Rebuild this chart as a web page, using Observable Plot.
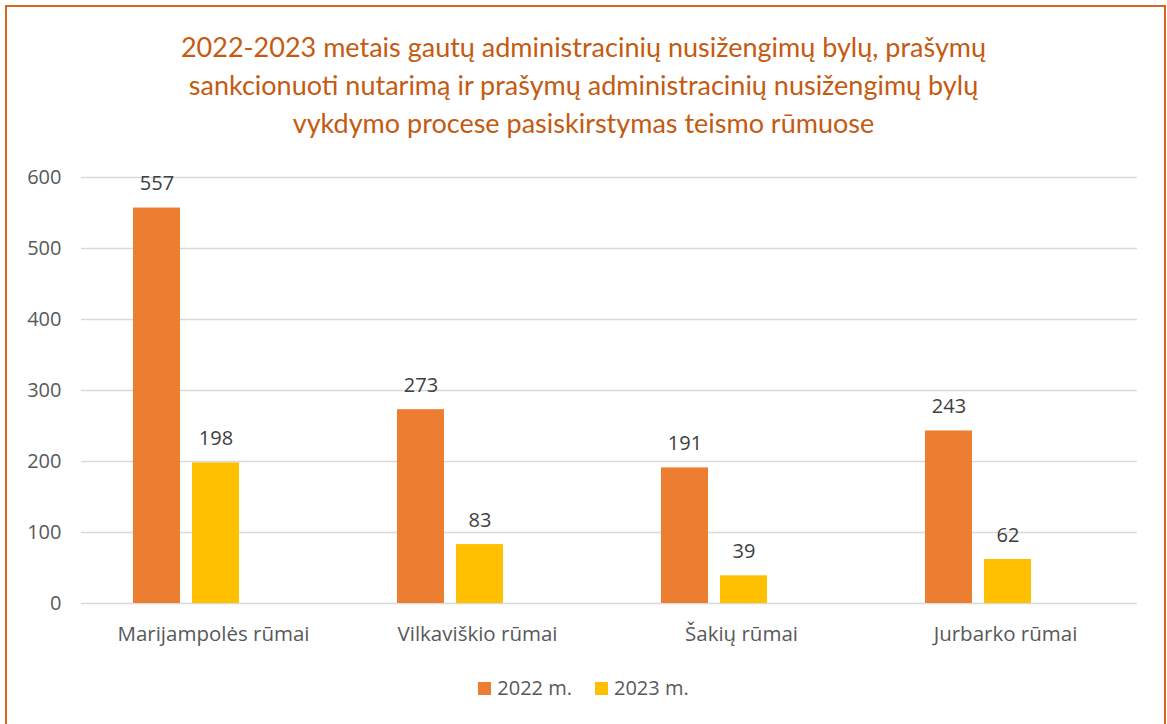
<!DOCTYPE html>
<html><head><meta charset="utf-8">
<script src="https://cdn.jsdelivr.net/npm/d3@7"></script>
<script src="https://cdn.jsdelivr.net/npm/@observablehq/plot@0.6"></script>
<style>
body{margin:0;width:1167px;height:724px;overflow:hidden;background:#fff;font-family:"Open Sans",sans-serif;position:relative}
#frame{position:absolute;left:5px;top:5px;width:1161px;height:800px;border:2px solid #D4661F;box-sizing:border-box}
#title{position:absolute;left:0;width:1167px;top:28px;text-align:center;color:#C55A11;font-family:Lato,sans-serif;font-size:27px;line-height:38px}
#chart{position:absolute;left:0;top:160px}
#legend{position:absolute;top:677px;left:0;width:1167px;display:flex;justify-content:center;gap:23px;font-size:20px;color:#595959;line-height:22px}
#legend span.item{display:flex;align-items:center;gap:6px}
#legend span.sw{display:inline-block;width:13px;height:13px}
</style></head>
<body>
<div id="frame"></div>
<div id="title">2022-2023 metais gautų administracinių nusižengimų bylų, prašymų<br>sankcionuoti nutarimą ir prašymų administracinių nusižengimų bylų<br>vykdymo procese pasiskirstymas teismo rūmuose</div>
<div id="chart"></div>
<div id="legend"></div>
<script>
const categories = ["Marijampolės rūmai","Vilkaviškio rūmai","Šakių rūmai","Jurbarko rūmai"];
const series = ["2022 m.","2023 m."];
const values2022 = [557,273,191,243];
const values2023 = [198,83,39,62];
const yTicks = [0,100,200,300,400,500,600];
const colors = ["#ED7D31","#FFC000"];

const data = [];
categories.forEach((c,i)=>{
  data.push({category:c, series:series[0], value:values2022[i]});
  data.push({category:c, series:series[1], value:values2023[i]});
});

const chart = Plot.plot({
  width:1167, height:500,
  marginLeft:80, marginRight:29, marginTop:17, marginBottom:57,
  style:{fontFamily:"'Open Sans', sans-serif", fontSize:"20px", color:"#595959", background:"transparent"},
  fx:{domain:categories, padding:0, label:null},
  x:{domain:[...series,"_"], axis:null, paddingInner:0.21, paddingOuter:0.84, align:0.52},
  y:{domain:[0,600], axis:null},
  color:{domain:series, range:colors},
  marks:[
    Plot.ruleY(yTicks, {stroke:"#d9d9d9", strokeWidth:1.5}),
    Plot.axisY({ticks:yTicks, tickSize:0, tickPadding:20, label:null, fontSize:20}),
    Plot.axisFx({anchor:"bottom", tickSize:0, tickPadding:23, label:null, fontSize:20.5}),
    Plot.barY(data, {fx:"category", x:"series", y:"value", fill:"series"}),
    Plot.text(data, {fx:"category", x:"series", y:"value", text:d=>String(d.value), dy:-24, fill:"#404040", fontSize:20})
  ]
});
document.getElementById("chart").appendChild(chart);

const lg = document.getElementById("legend");
series.forEach((s,i)=>{
  const it = document.createElement("span"); it.className="item";
  const sw = document.createElement("span"); sw.className="sw"; sw.style.background=colors[i];
  const t = document.createElement("span"); t.textContent=s;
  it.appendChild(sw); it.appendChild(t); lg.appendChild(it);
});
</script>
</body></html>
